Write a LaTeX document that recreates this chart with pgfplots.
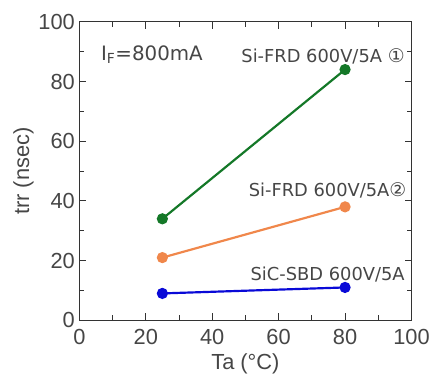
\documentclass[border=0pt]{standalone}
\usepackage{pgfplots}
\pgfplotsset{compat=1.18}
\usepackage{fontspec}
\setmainfont{Liberation Sans}
\newfontfamily\dejafont{DejaVu Sans}
\definecolor{cgreen}{RGB}{20,120,40}
\definecolor{corange}{RGB}{240,135,75}
\definecolor{cblue}{RGB}{10,10,215}
\definecolor{ctext}{RGB}{70,70,70}
\begin{document}
\begin{tikzpicture}
\begin{axis}[
  scale only axis,
  width=335pt, height=301pt,
  xmin=0, xmax=100, ymin=0, ymax=100,
  xtick={0,20,...,100}, ytick={0,20,...,100},
  minor xtick={10,30,...,90}, minor ytick={10,30,...,90},
  tick align=inside,
  major tick length=7pt, minor tick length=5pt,
  every tick/.style={black!80, line width=0.8pt},
  axis line style={black!80, line width=1pt},
  tick label style={font=\fontsize{22}{26}\selectfont, text=ctext},
  /pgf/number format/assume math mode=true,
  xticklabel style={yshift=-6pt},
  yticklabel style={xshift=-1pt},
  xlabel={Ta (°C)},
  ylabel={trr (nsec)},
  label style={font=\fontsize{22}{26}\selectfont, text=ctext},
  xlabel style={yshift=-2pt},
  ylabel style={yshift=-2pt},
  clip=false,
]
\addplot[cgreen, line width=2.2pt, mark=*, mark size=4.5pt] coordinates {(25,34) (80,84)};
\addplot[corange, line width=2.2pt, mark=*, mark size=4.5pt] coordinates {(25,21) (80,38)};
\addplot[cblue, line width=2.2pt, mark=*, mark size=4.5pt] coordinates {(25,9) (80,11)};
\node[anchor=west, text=ctext, font=\dejafont\fontsize{20}{24}\selectfont, inner sep=0pt] at (axis cs:6.5,89) {I\textsubscript{F}=800mA};
\node[anchor=east, text=ctext, font=\dejafont\fontsize{18}{22}\selectfont, inner sep=0pt] at (axis cs:98,88.5) {Si-FRD 600V/5A {\fontsize{19}{22}\selectfont ①}};
\node[anchor=east, text=ctext, font=\dejafont\fontsize{18}{22}\selectfont, inner sep=0pt] at (axis cs:98.5,43.5) {Si-FRD 600V/5A{\fontsize{19}{22}\selectfont ②}};
\node[anchor=east, text=ctext, font=\dejafont\fontsize{18}{22}\selectfont, inner sep=0pt] at (axis cs:98,15.3) {SiC-SBD 600V/5A};
\end{axis}
\path (current axis.south west) ++(-80pt,-60pt) coordinate (bl);
\path (current axis.north east) ++(18pt,22pt) coordinate (tr);
\path (bl) rectangle (tr);
\end{tikzpicture}
\end{document}
